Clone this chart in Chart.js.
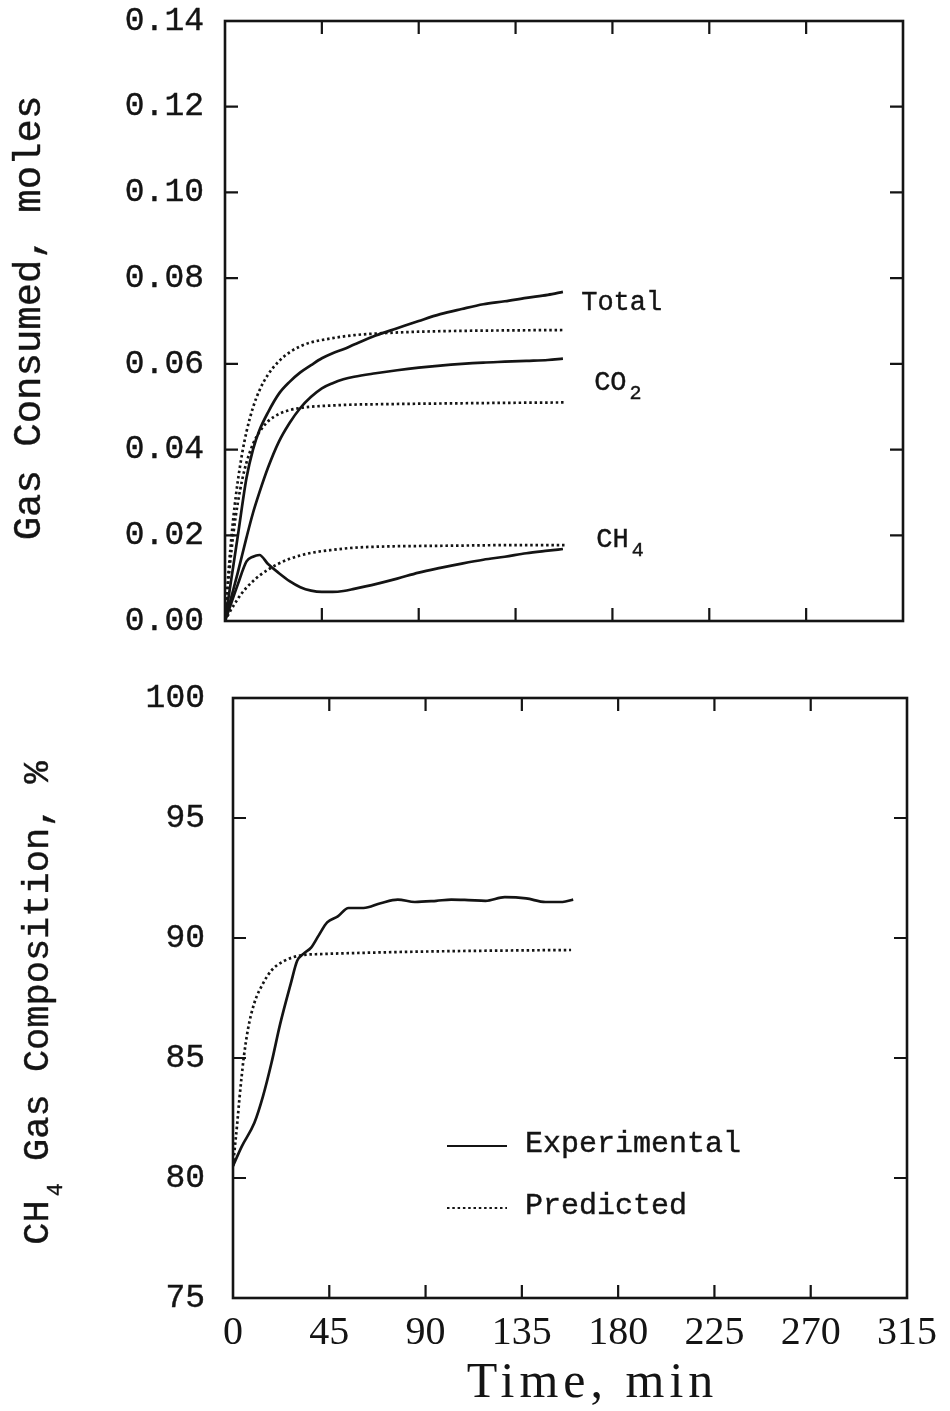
<!DOCTYPE html>
<html>
<head>
<meta charset="utf-8">
<script src="https://cdn.jsdelivr.net/npm/chart.js@4.4.1/dist/chart.umd.min.js"></script>
<style>
  html, body { margin: 0; padding: 0; background: #ffffff; }
  #wrap { position: relative; width: 950px; height: 1411px; overflow: hidden; }
  canvas { position: absolute; left: 0; }
  #gas { top: 0; }
  #comp { top: 660px; }
</style>
</head>
<body>
<div id="wrap">
  <canvas id="gas" width="950" height="660" style="width:950px;height:660px"></canvas>
  <canvas id="comp" width="950" height="751" style="width:950px;height:751px"></canvas>
</div>
<script>
// ---- axis ticks ----
const timeTicks = [0, 45, 90, 135, 180, 225, 270, 315];
const gasTicks  = [0, 0.02, 0.04, 0.06, 0.08, 0.10, 0.12, 0.14];
const compTicks = [75, 80, 85, 90, 95, 100];

// ---- measured gas uptake (moles) ----
const expTime  = [0, 3, 6, 10, 13, 16, 20, 25, 30, 35, 40, 45, 50, 55, 60, 70, 80, 90, 100, 110, 120, 130, 140, 150, 157];
const expTotal = [0, 0.0100, 0.0200, 0.0334, 0.0400, 0.0445, 0.0487, 0.0530, 0.0558, 0.0580, 0.0597, 0.0613, 0.0625, 0.0634, 0.0645, 0.0666, 0.0683, 0.0700, 0.0716, 0.0728, 0.0739, 0.0746, 0.0754, 0.0761, 0.0768];
const expCO2   = [0, 0.0057, 0.0114, 0.0195, 0.0252, 0.0300, 0.0358, 0.0418, 0.0462, 0.0497, 0.0523, 0.0543, 0.0555, 0.0564, 0.0570, 0.0578, 0.0585, 0.0591, 0.0596, 0.0600, 0.0603, 0.0605, 0.0607, 0.0609, 0.0612];
const expCH4   = [0, 0.0043, 0.0086, 0.0139, 0.0150, 0.0154, 0.0133, 0.0112, 0.0093, 0.0079, 0.0071, 0.0068, 0.0068, 0.0070, 0.0075, 0.0086, 0.0099, 0.0113, 0.0124, 0.0134, 0.0143, 0.0150, 0.0158, 0.0164, 0.0168];

// ---- model gas uptake (moles) ----
const predTime  = [0, 1, 2, 3, 4, 5, 6, 8, 10, 13, 16, 20, 25, 30, 35, 40, 50, 60, 75, 90, 110, 130, 158];
const predTotal = [0, 0.0072, 0.0138, 0.0196, 0.0247, 0.0290, 0.0328, 0.0392, 0.0442, 0.0498, 0.0538, 0.0575, 0.0606, 0.0627, 0.0641, 0.0650, 0.0660, 0.0667, 0.0672, 0.0675, 0.0677, 0.0678, 0.0679];
const predCO2   = [0, 0.0060, 0.0116, 0.0165, 0.0208, 0.0245, 0.0277, 0.0330, 0.0370, 0.0413, 0.0441, 0.0466, 0.0483, 0.0492, 0.0497, 0.0500, 0.0503, 0.0505, 0.0506, 0.0507, 0.0508, 0.0509, 0.0510];
const predCH4   = [0, 0.0010, 0.0019, 0.0028, 0.0036, 0.0044, 0.0052, 0.0066, 0.0078, 0.0093, 0.0106, 0.0120, 0.0134, 0.0145, 0.0153, 0.0159, 0.0166, 0.0171, 0.0174, 0.0175, 0.0176, 0.0177, 0.0177];

// ---- CH4 content of the gas phase (%) ----
const compExpTime  = [0, 4, 10, 14, 18, 22, 27, 30, 33, 36.5, 40, 44, 49, 54, 61, 69, 77, 85, 95, 102, 110, 118, 127, 137, 146, 154, 159];
const compExp      = [80.5, 81.3, 82.3, 83.4, 84.8, 86.4, 88.1, 89.05, 89.35, 89.6, 90.1, 90.65, 90.9, 91.25, 91.25, 91.45, 91.6, 91.5, 91.55, 91.6, 91.58, 91.55, 91.7, 91.65, 91.5, 91.5, 91.6];
const compPredTime = [0, 1, 2, 3, 4, 5, 7, 10, 14, 18, 24, 32, 41, 60, 80, 100, 130, 158];
const compPred     = [80.5, 81.4, 82.3, 83.3, 84.2, 85.0, 86.2, 87.3, 88.1, 88.65, 89.05, 89.28, 89.33, 89.38, 89.42, 89.45, 89.48, 89.5];

// ---- curve name tags: [text, subscript, time, moles] ----
const curveTags = [
  ['Total', '',  165.5, 0.0742],
  ['CO',    '2', 171.5, 0.0556],
  ['CH',    '4', 172.5, 0.0189]
];
const legendNames = ['Experimental', 'Predicted'];

// ---- styling ----
const INK   = '#141414';
const MONO  = '"Liberation Mono", "DejaVu Sans Mono", monospace';
const SERIF = '"Liberation Serif", "DejaVu Serif", serif';
const WEIGHT = 0.4;   // extra stroke that gives the lettering a slightly heavier look

const pts = (xs, ys) => xs.map((x, i) => ({ x, y: ys[i] }));
const solid  = { borderColor: INK, borderWidth: 2.7, pointRadius: 0, fill: false, cubicInterpolationMode: 'monotone' };
const dotted = { ...solid, borderDash: [2.5, 2.8], borderCapStyle: 'butt' };
const fixedTicks = values => scale => { scale.ticks = values.map(v => ({ value: v })); };
// fixed axis band, no extra room reserved for overhanging labels
const band = (prop, size) => s => {
  s[prop] = size;
  s.paddingTop = 0; s.paddingBottom = 0; s.paddingLeft = 0; s.paddingRight = 0;
};

// box around the plot with inward tick marks on all four sides
const frame = {
  id: 'frame',
  afterDatasetsDraw(chart) {
    const { ctx, chartArea: a, scales: { x, y } } = chart;
    const L = 13;
    ctx.save();
    ctx.strokeStyle = INK;
    ctx.lineWidth = 2.2;
    ctx.beginPath();
    x.ticks.forEach(t => {
      if (t.value <= x.min || t.value >= x.max) return;
      const p = x.getPixelForValue(t.value);
      ctx.moveTo(p, a.bottom); ctx.lineTo(p, a.bottom - L);
      ctx.moveTo(p, a.top);    ctx.lineTo(p, a.top + L);
    });
    y.ticks.forEach(t => {
      if (t.value <= y.min || t.value >= y.max) return;
      const p = y.getPixelForValue(t.value);
      ctx.moveTo(a.left, p);  ctx.lineTo(a.left + L, p);
      ctx.moveTo(a.right, p); ctx.lineTo(a.right - L, p);
    });
    ctx.stroke();
    ctx.lineWidth = 2.6;
    ctx.strokeRect(a.left, a.top, a.width, a.height);
    ctx.restore();
  }
};

// text made of runs; a run may be lowered (dy) and spaced off (gap) as a subscript
function richText(ctx, parts, x, y, align) {
  let w = 0;
  parts.forEach(p => { ctx.font = p.font; p.w = ctx.measureText(p.text).width + (p.gap || 0); w += p.w; });
  let cx = align === 'center' ? x - w / 2 : x;
  ctx.lineWidth = WEIGHT;
  ctx.strokeStyle = ctx.fillStyle;
  parts.forEach(p => {
    ctx.font = p.font;
    const tx = cx + (p.gap || 0), ty = y + (p.dy || 0);
    ctx.fillText(p.text, tx, ty);
    ctx.strokeText(p.text, tx, ty);
    cx += p.w;
  });
}
function verticalTitle(ctx, parts, cx, cy) {
  ctx.save();
  ctx.translate(cx, cy);
  ctx.rotate(-Math.PI / 2);
  ctx.textBaseline = 'middle';
  ctx.textAlign = 'left';
  richText(ctx, parts, 0, 0, 'center');
  ctx.restore();
}

const gasText = {
  id: 'gasText',
  afterDraw(chart) {
    const { ctx, chartArea: a, scales: { x, y } } = chart;
    ctx.save();
    ctx.fillStyle = INK;
    verticalTitle(ctx, [{ text: 'Gas Consumed, moles', font: `39px ${MONO}` }], 30, (a.top + a.bottom) / 2 - 3);
    ctx.textBaseline = 'middle';
    ctx.textAlign = 'left';
    curveTags.forEach(([name, sub, t, v]) => {
      const parts = [{ text: name, font: `27px ${MONO}` }];
      if (sub) parts.push({ text: sub, font: `20px ${MONO}`, dy: 11, gap: 3 });
      richText(ctx, parts, x.getPixelForValue(t), y.getPixelForValue(v), 'left');
    });
    ctx.restore();
  }
};

const compText = {
  id: 'compText',
  afterDraw(chart) {
    const { ctx, chartArea: a } = chart;
    ctx.save();
    ctx.fillStyle = INK;
    verticalTitle(ctx, [
      { text: 'CH', font: `37px ${MONO}` },
      { text: '4', font: `22px ${MONO}`, dy: 18, gap: 4 },
      { text: ' Gas Composition, %', font: `37px ${MONO}` }
    ], 38, (a.top + a.bottom) / 2 + 5);

    // legend
    const sets = chart.data.datasets;
    const rows = [486, 548];
    rows.forEach((ry, i) => {
      const ds = sets[i];
      ctx.save();
      ctx.strokeStyle = ds.borderColor;
      ctx.lineWidth = 2.2;
      ctx.setLineDash(ds.borderDash || []);
      ctx.beginPath();
      ctx.moveTo(447, ry);
      ctx.lineTo(507, ry);
      ctx.stroke();
      ctx.restore();
      ctx.textBaseline = 'middle';
      ctx.textAlign = 'left';
      richText(ctx, [{ text: legendNames[i], font: `30px ${MONO}` }], 525, ry - 2, 'left');
    });

    // time axis title
    ctx.font = `50px ${SERIF}`;
    ctx.letterSpacing = '5px';
    ctx.textBaseline = 'alphabetic';
    ctx.textAlign = 'left';
    const label = 'Time, min';
    const w = ctx.measureText(label).width - 5;
    ctx.fillText(label, 590 - w / 2, 737);
    ctx.restore();
  }
};

Chart.defaults.color = INK;
Chart.defaults.font.family = MONO;

const tickInk = { color: INK, textStrokeColor: INK, textStrokeWidth: WEIGHT };

new Chart(document.getElementById('gas'), {
  type: 'line',
  data: {
    datasets: [
      { label: 'Total', data: pts(expTime, expTotal), ...solid },
      { label: 'CO2', data: pts(expTime, expCO2), ...solid },
      { label: 'CH4', data: pts(expTime, expCH4), ...solid },
      { label: 'Total (model)', data: pts(predTime, predTotal), ...dotted },
      { label: 'CO2 (model)', data: pts(predTime, predCO2), ...dotted },
      { label: 'CH4 (model)', data: pts(predTime, predCH4), ...dotted }
    ]
  },
  options: {
    responsive: false,
    animation: false,
    devicePixelRatio: 1,
    layout: { padding: { left: 0, right: 47, top: 21, bottom: 0 } },
    plugins: { legend: { display: false }, tooltip: { enabled: false } },
    scales: {
      x: {
        type: 'linear', min: 0, max: 315,
        grid: { display: false }, border: { display: false },
        ticks: { display: false },
        afterBuildTicks: fixedTicks(timeTicks),
        afterFit: band('height', 39)
      },
      y: {
        type: 'linear', min: 0, max: 0.14,
        grid: { display: false }, border: { display: false },
        ticks: { padding: 13, font: { family: MONO, size: 33 }, ...tickInk, callback: v => v.toFixed(2) },
        afterBuildTicks: fixedTicks(gasTicks),
        afterFit: band('width', 225)
      }
    }
  },
  plugins: [frame, gasText]
});

new Chart(document.getElementById('comp'), {
  type: 'line',
  data: {
    datasets: [
      { label: 'Experimental', data: pts(compExpTime, compExp), ...solid },
      { label: 'Predicted', data: pts(compPredTime, compPred), ...dotted }
    ]
  },
  options: {
    responsive: false,
    animation: false,
    devicePixelRatio: 1,
    layout: { padding: { left: 0, right: 43, top: 38, bottom: 0 } },
    plugins: { legend: { display: false }, tooltip: { enabled: false } },
    scales: {
      x: {
        type: 'linear', min: 0, max: 315,
        grid: { display: false }, border: { display: false },
        ticks: { padding: 7, font: { family: SERIF, size: 40, lineHeight: 1 }, color: INK, maxRotation: 0 },
        afterBuildTicks: fixedTicks(timeTicks),
        afterFit: band('height', 113)
      },
      y: {
        type: 'linear', min: 75, max: 100,
        grid: { display: false }, border: { display: false },
        ticks: { padding: 20, font: { family: MONO, size: 33 }, ...tickInk },
        afterBuildTicks: fixedTicks(compTicks),
        afterFit: band('width', 233)
      }
    }
  },
  plugins: [frame, compText]
});
</script>
</body>
</html>
